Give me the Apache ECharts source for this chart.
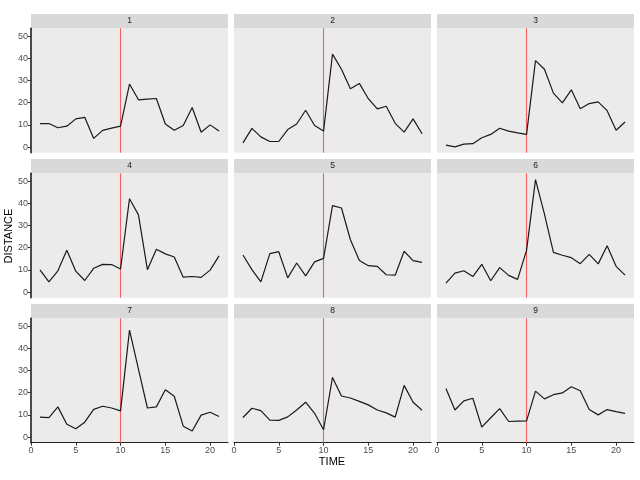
<!DOCTYPE html>
<html><head><meta charset="utf-8">
<script src="https://cdn.jsdelivr.net/npm/echarts@6/dist/echarts.min.js"></script>
<style>html,body{margin:0;padding:0;background:#fff}#c{width:640px;height:480px}</style>
</head><body><div id="c"></div>
<script>
const panelNames = ['1','2','3','4','5','6','7','8','9'];
const time = [1,2,3,4,5,6,7,8,9,10,11,12,13,14,15,16,17,18,19,20,21];
const d1 = [10.6,10.6,8.7,9.4,12.7,13.4,3.9,7.5,8.5,9.4,28.4,21.3,21.6,21.9,10.4,7.6,9.7,17.8,6.7,10.0,7.2];
const d2 = [1.9,8.4,4.6,2.5,2.5,7.9,10.4,16.6,9.7,7.2,41.9,35.1,26.3,28.7,21.8,17.2,18.4,10.7,6.7,12.7,6.0];
const d3 = [0.9,0.1,1.3,1.5,4.2,5.7,8.5,7.2,6.4,5.7,39.0,35.1,24.3,19.9,25.8,17.3,19.6,20.4,16.4,7.6,11.3];
const d4 = [10.0,4.6,9.6,18.8,9.4,5.2,10.7,12.5,12.4,10.4,42.1,34.8,10.1,19.3,17.2,15.8,6.7,7.0,6.6,9.9,16.3];
const d5 = [16.7,10.1,4.6,17.3,18.2,6.4,13.1,7.3,13.6,15.2,39.0,37.9,23.6,14.2,11.9,11.6,7.8,7.6,18.4,14.2,13.4];
const d6 = [4.0,8.5,9.6,7.0,12.5,5.1,11.0,7.5,5.7,18.8,50.7,35.1,17.9,16.6,15.5,12.8,17.0,12.7,20.9,11.6,7.6];
const d7 = [9.0,8.8,13.6,5.8,3.7,6.7,12.5,13.9,13.1,11.8,48.2,30.6,13.1,13.6,21.3,18.4,4.9,2.7,9.9,11.2,9.3];
const d8 = [8.8,13.0,11.9,7.6,7.5,9.1,12.2,15.7,10.7,3.3,26.9,18.5,17.6,16.1,14.5,12.2,10.9,9.0,23.3,15.7,12.1];
const d9 = [21.9,12.2,16.3,17.5,4.5,8.7,12.8,7.0,7.2,7.3,20.7,17.2,19.1,19.9,22.7,20.9,12.4,10.0,12.4,11.5,10.7];
const panelData = [d1,d2,d3,d4,d5,d6,d7,d8,d9];
const interventionTime = 10;
const xTicks = [0,5,10,15,20];
const yTicks = [0,10,20,30,40,50];
const xTitle = 'TIME';
const yTitle = 'DISTANCE';

const FONT = '"Liberation Sans", Arial, sans-serif';
const colLeft = [31, 234, 437];
const panelW = 197;
const rowTop = [28.3, 173.3, 318.3];
const panelH = 124.4;
const stripH = 14.3;

const grids = [], xAxes = [], yAxes = [], series = [], graphics = [];
panelData.forEach((vals, i) => {
  const r = Math.floor(i / 3), c = i % 3;
  const left = colLeft[c], top = rowTop[r];
  grids.push({left: left, top: top, width: panelW, height: panelH,
    show: true, backgroundColor: '#EBEBEB', borderWidth: 0});
  const bottomRow = r === 2, leftCol = c === 0;
  xAxes.push({type: 'value', gridIndex: i, min: 0, max: 22,
    axisLine: {show: bottomRow, onZero: false, lineStyle: {color: '#222', width: 1.2}},
    axisTick: {show: bottomRow, length: 3, customValues: xTicks, lineStyle: {color: '#333'}},
    axisLabel: {show: bottomRow, customValues: xTicks, color: '#4D4D4D', fontSize: 9, fontFamily: FONT, margin: 3},
    splitLine: {show: false}});
  yAxes.push({type: 'value', gridIndex: i, min: -2.55, max: 53.55,
    axisLine: {show: leftCol, onZero: false, lineStyle: {color: '#111', width: 1.5}},
    axisTick: {show: leftCol, length: 3, customValues: yTicks, lineStyle: {color: '#333'}},
    axisLabel: {show: leftCol, customValues: yTicks, color: '#4D4D4D', fontSize: 9, fontFamily: FONT, margin: 3},
    splitLine: {show: false}});
  series.push({type: 'line', xAxisIndex: i, yAxisIndex: i,
    data: time.map((t, k) => [t, vals[k]]),
    showSymbol: false, symbol: 'none', silent: true,
    lineStyle: {color: '#1a1a1a', width: 1.2},
    z: 3,
    markLine: {silent: true, symbol: 'none', label: {show: false},
      lineStyle: {color: '#F26060', width: 1.1, type: 'solid', opacity: 1},
      emphasis: {disabled: true},
      data: [{xAxis: interventionTime}], z: 2}});
  graphics.push({type: 'rect', shape: {x: left, y: top - stripH, width: panelW, height: stripH},
    style: {fill: '#D9D9D9'}, silent: true});
  graphics.push({type: 'text', x: left + panelW / 2, y: top - stripH / 2,
    style: {text: panelNames[i], fill: '#1A1A1A', font: '8.5px ' + FONT, align: 'center', verticalAlign: 'middle'}, silent: true});
});
graphics.push({type: 'text', x: 332, y: 462,
  style: {text: xTitle, fill: '#000', font: '11px ' + FONT, align: 'center', verticalAlign: 'middle'}});
graphics.push({type: 'text', x: 9, y: 236, rotation: Math.PI / 2,
  style: {text: yTitle, fill: '#000', font: '11px ' + FONT, align: 'center', verticalAlign: 'middle'}});

const chart = echarts.init(document.getElementById('c'), null, {renderer: 'canvas'});
chart.setOption({animation: false, backgroundColor: '#fff',
  grid: grids, xAxis: xAxes, yAxis: yAxes, series: series, graphic: graphics});
</script></body></html>
